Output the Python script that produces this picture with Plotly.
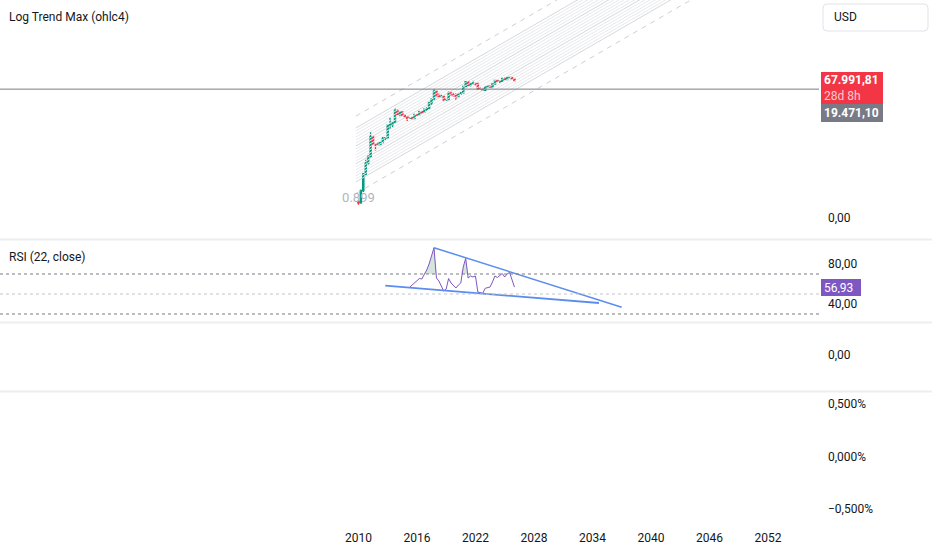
import math
import plotly.graph_objects as go

# quarterly candles, 2010 Q1 .. 2026 Q1
quarters = [f"{y}-{m:02d}-01" for y in range(2010, 2027) for m in (1, 4, 7, 10)][:65]

opens = [0.0009, 0.0008, 0.005, 0.06, 0.30, 0.80, 16, 5.2,
         4.7, 4.9, 6.7, 12.4, 13.5, 93, 97, 135,
         750, 450, 640, 390, 320, 245, 265, 236,
         430, 415, 670, 610, 965, 1070, 2480, 4350,
         13850, 6930, 6400, 6600, 3740, 4100, 10800, 8300,
         7200, 6400, 9150, 10800, 29000, 58800, 35000, 43800,
         46300, 45500, 19900, 19400, 16500, 28500, 30500, 27000,
         42300, 71300, 62700, 63300, 93400, 82500, 107100, 114000,
         87500]
highs = [0.0012, 0.006, 0.07, 0.5, 1.0, 31, 17, 5.5,
         7.2, 7.0, 15.4, 14.0, 95, 266, 150, 1150,
         1000, 680, 660, 450, 330, 265, 316, 500,
         460, 780, 680, 980, 1350, 3000, 5000, 19800,
         17200, 9990, 8500, 6800, 4200, 13900, 13200, 10500,
         10500, 10000, 12500, 29300, 61800, 64900, 52900, 69000,
         48200, 47500, 25200, 21500, 29200, 31400, 31800, 44700,
         73800, 72000, 70000, 108300, 109600, 111900, 124500, 126200,
         97900]
lows = [0.0006, 0.0007, 0.004, 0.05, 0.25, 0.7, 4.5, 2.0,
        4.3, 4.7, 6.6, 9.8, 13.3, 50, 65, 122,
        420, 340, 360, 300, 165, 220, 200, 235,
        350, 410, 480, 600, 750, 1000, 1800, 4100,
        5900, 5750, 5850, 3150, 3350, 4050, 7700, 6400,
        3800, 6150, 8900, 10400, 28200, 28800, 29300, 42000,
        32900, 17600, 18100, 15500, 16500, 24800, 24900, 26900,
        38500, 56500, 49000, 58900, 76600, 74400, 105300, 80600,
        60000]
closes = [0.0008, 0.005, 0.06, 0.30, 0.80, 16, 5.2, 4.7,
          4.9, 6.7, 12.4, 13.5, 93, 97, 135, 750,
          450, 640, 390, 320, 245, 265, 236, 430,
          415, 670, 610, 965, 1070, 2480, 4350, 13850,
          6930, 6400, 6600, 3740, 4100, 10800, 8300, 7200,
          6400, 9150, 10800, 29000, 58800, 35000, 43800, 46300,
          45500, 19900, 19400, 16500, 28500, 30500, 27000, 42300,
          71300, 62700, 63300, 93400, 82500, 107100, 114000, 87500,
          67991.81]

last_price = 67991.81
level_price = 19471.10
low_label = "0.899"

# RSI (22) from 2015 Q2 on
rsi = [56.7, 59, 61, 63, 65.5, 65, 69.5, 74, 80, 88, 96.3,
       66, 63, 58, 53, 55, 65.5, 61, 58, 56, 59, 61, 77, 85.7,
       66, 68, 67, 68, 52, 51, 50.7, 55.7, 56.5, 57, 62, 68,
       66.5, 68.5, 70.5, 67, 70, 71.7, 63, 56.93]
rsi_dates = quarters[21:]

# hand-drawn trend lines on the RSI pane
upper_tl_x = ["2017-10-01", "2037-01-01"]
upper_tl_y = [96.3, 36.7]
lower_tl_x = ["2012-10-01", "2034-09-01"]
lower_tl_y = [58.3, 41.0]

# log trend channel: log10 price = mid + offset + slope * years since start
chan_start = "2009-10-01"
chan_end = "2057-03-28"
chan_years = 47.49
chan_mid = 0.02
chan_slope = 0.366
chan_dashed = [2.52, -2.51]
chan_solid = [1.75, 1.56, 1.36, 1.17, 0.97, 0.78, 0.58, 0.39, 0.19, 0.0,
              -0.19, -0.39, -0.58, -0.78, -0.97, -1.17, -1.36, -1.56, -1.75]

year_ticks = [2010, 2016, 2022, 2028, 2034, 2040, 2046, 2052]

W, H = 932, 550
ML, MR, MT, MB = 0, 113, 0, 26
PH = H - MT - MB
PW = W - ML - MR


def py(px):
    return 1 - px / PH


def pxx(px):
    return px / PW


FONT = "Roboto"
TXT = "#131722"

fig = go.Figure()

for i, off in enumerate(chan_solid):
    b = chan_mid + off
    fig.add_trace(go.Scatter(
        x=[chan_start, chan_end], y=[10 ** b, 10 ** (b + chan_slope * chan_years)],
        mode="lines", line=dict(color="#d6d8dc" if i % 6 == 0 else "#e8e9ec", width=1),
        hoverinfo="skip", xaxis="x", yaxis="y"))
for off in chan_dashed:
    b = chan_mid + off
    fig.add_trace(go.Scatter(
        x=[chan_start, chan_end], y=[10 ** b, 10 ** (b + chan_slope * chan_years)],
        mode="lines", line=dict(color="#cdcfd4", width=1, dash="5px,5px"),
        hoverinfo="skip", xaxis="x", yaxis="y"))

# label of the lowest low, drawn under the candles
fig.add_trace(go.Scatter(
    x=[quarters[0]], y=[min(lows)], mode="text", text=[low_label],
    textposition="top center",
    textfont=dict(family=FONT, size=13, color="#b2b5be"),
    hoverinfo="skip", xaxis="x", yaxis="y"))

fig.add_trace(go.Candlestick(
    x=quarters, open=opens, high=highs, low=lows, close=closes,
    increasing=dict(line=dict(color="#089981", width=1.4), fillcolor="#089981"),
    decreasing=dict(line=dict(color="#f23645", width=1.4), fillcolor="#f23645"),
    whiskerwidth=0, xaxis="x", yaxis="y"))

# RSI pane
fig.add_trace(go.Scatter(x=rsi_dates, y=[70] * len(rsi), mode="lines",
                         line=dict(width=0), hoverinfo="skip", xaxis="x", yaxis="y2"))
fig.add_trace(go.Scatter(x=rsi_dates, y=[max(v, 70) for v in rsi], mode="lines",
                         line=dict(width=0), fill="tonexty",
                         fillcolor="rgba(120,165,145,0.3)",
                         hoverinfo="skip", xaxis="x", yaxis="y2"))
fig.add_trace(go.Scatter(x=rsi_dates, y=rsi, mode="lines",
                         line=dict(color="#7e57c2", width=1),
                         xaxis="x", yaxis="y2"))
fig.add_trace(go.Scatter(x=upper_tl_x, y=upper_tl_y, mode="lines",
                         line=dict(color="#5b8def", width=1.5), xaxis="x", yaxis="y2"))
fig.add_trace(go.Scatter(x=lower_tl_x, y=lower_tl_y, mode="lines",
                         line=dict(color="#5b8def", width=1.8), xaxis="x", yaxis="y2"))

# empty panes need a trace so the axes get drawn
fig.add_trace(go.Scatter(x=[quarters[0]], y=[0], mode="markers", marker=dict(opacity=0),
                         hoverinfo="skip", xaxis="x", yaxis="y3"))
fig.add_trace(go.Scatter(x=[quarters[0]], y=[0], mode="markers", marker=dict(opacity=0),
                         hoverinfo="skip", xaxis="x", yaxis="y4"))

shapes = []
for val, col in ((70, "#787b86"), (50, "#c3c5cb"), (30, "#787b86")):
    shapes.append(dict(type="line", xref="x domain", x0=0, x1=1, yref="y2", y0=val, y1=val,
                       line=dict(color=col, width=1, dash="3px,3px")))
shapes.append(dict(type="line", xref="x domain", x0=0, x1=1, yref="y",
                   y0=level_price, y1=level_price,
                   line=dict(color="#787b86", width=1)))
for sep in (239.5, 322.5, 391.5):
    shapes.append(dict(type="line", xref="paper", x0=0, x1=W / PW, yref="paper",
                       y0=py(sep), y1=py(sep), line=dict(color="#eceef2", width=2)))

# rounded USD box
x0, x1, y0, y1, r = 823, 928, 4, 31, 4
path = (f"M {pxx(x0 + r)},{py(y0)} L {pxx(x1 - r)},{py(y0)} Q {pxx(x1)},{py(y0)} {pxx(x1)},{py(y0 + r)} "
        f"L {pxx(x1)},{py(y1 - r)} Q {pxx(x1)},{py(y1)} {pxx(x1 - r)},{py(y1)} "
        f"L {pxx(x0 + r)},{py(y1)} Q {pxx(x0)},{py(y1)} {pxx(x0)},{py(y1 - r)} "
        f"L {pxx(x0)},{py(y0 + r)} Q {pxx(x0)},{py(y0)} {pxx(x0 + r)},{py(y0)} Z")
shapes.append(dict(type="path", xref="paper", yref="paper", path=path,
                   line=dict(color="#e0e3eb", width=1), fillcolor="white"))

annotations = [
    dict(xref="paper", yref="paper", x=pxx(7), y=py(17), xanchor="left", yanchor="middle",
         text="Log Trend Max (ohlc4)", showarrow=False, font=dict(family=FONT, size=12, color=TXT)),
    dict(xref="paper", yref="paper", x=pxx(7), y=py(257), xanchor="left", yanchor="middle",
         text="RSI (22, close)", showarrow=False, font=dict(family=FONT, size=12, color=TXT)),
    dict(xref="paper", yref="paper", x=pxx(832), y=py(17.5), xanchor="left", yanchor="middle",
         text="USD", showarrow=False, font=dict(family=FONT, size=12, color=TXT)),
    dict(xref="paper", yref="y", x=1, y=math.log10(last_price), xanchor="left", yanchor="top",
         xshift=2, yshift=9, showarrow=False, align="left", width=56, height=26,
         bgcolor="#f23645", bordercolor="#f23645", borderwidth=1, borderpad=2,
         text="<b>67.991,81</b><br><span style='color:#fccbcf'>28d 8h</span>",
         font=dict(family=FONT, size=12, color="white")),
    dict(xref="paper", yref="y", x=1, y=math.log10(level_price), xanchor="left", yanchor="top",
         xshift=2, yshift=-15, showarrow=False, align="left", width=56, height=12,
         bgcolor="#787b86", bordercolor="#787b86", borderwidth=1, borderpad=2,
         text="<b>19.471,10</b>", font=dict(family=FONT, size=12, color="white")),
    dict(xref="paper", yref="y2", x=1, y=rsi[-1], xanchor="left", yanchor="middle",
         xshift=2, showarrow=False, align="left", width=34, height=11,
         bgcolor="#7e57c2", bordercolor="#7e57c2", borderwidth=1, borderpad=2,
         text="56,93", font=dict(family=FONT, size=12, color="white")),
]

yax_common = dict(side="right", showgrid=False, zeroline=False, showline=False,
                  ticks="", ticklabelstandoff=8, tickfont=dict(family=FONT, size=12, color=TXT),
                  fixedrange=True)

fig.update_layout(
    width=W, height=H, margin=dict(l=ML, r=MR, t=MT, b=MB),
    paper_bgcolor="white", plot_bgcolor="white", showlegend=False,
    xaxis=dict(type="date", range=["1973-03-28", chan_end], anchor="y4",
               showgrid=False, zeroline=False, showline=False, ticks="", ticklabelstandoff=5,
               tickvals=[f"{y}-01-01" for y in year_ticks], ticktext=[str(y) for y in year_ticks],
               tickfont=dict(family=FONT, size=12, color=TXT), rangeslider=dict(visible=False)),
    yaxis=dict(type="log", domain=[py(238), py(0)], range=[-5.38, 10.08],
               tickvals=[10 ** -4.08], ticktext=["0,00"], **yax_common),
    yaxis2=dict(domain=[py(321), py(241)], range=[23, 103],
                tickvals=[80, 40], ticktext=["80,00", "40,00"], **yax_common),
    yaxis3=dict(domain=[py(390), py(324)], range=[-1.129, 1],
                tickvals=[0], ticktext=["0,00"], **yax_common),
    yaxis4=dict(domain=[py(524), py(393)], range=[-0.643, 0.605],
                tickvals=[0.5, 0, -0.5], ticktext=["0,500%", "0,000%", "\u22120,500%"], **yax_common),
    shapes=shapes, annotations=annotations,
)

# the page body margin would shift the whole chart by 8 px
fig.write_html("out.html", config={"displayModeBar": False},
               post_script="document.body.style.margin='0';")
